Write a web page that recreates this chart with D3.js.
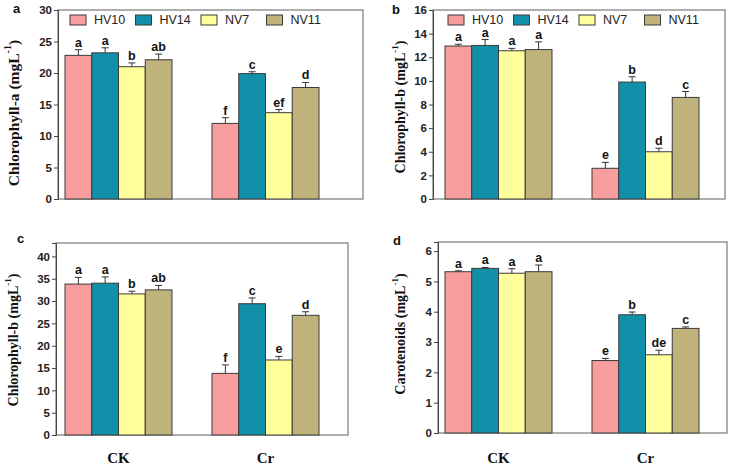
<!DOCTYPE html>
<html><head><meta charset="utf-8">
<script src="https://cdn.jsdelivr.net/npm/d3@7"></script>
<style>body{margin:0;background:#fff}svg{display:block}</style>
</head><body>
<svg id="chart" width="731" height="468"></svg>
<script>
// ---- data ----
const groups = ["CK", "Cr"];
const varieties = ["HV10", "HV14", "NV7", "NV11"];
const colors = ["#F89D9D", "#1290AA", "#FFFF9C", "#BFB37B"];

const chlA      = [[22.8, 23.2, 21.0, 22.1], [12.0, 19.9, 13.7, 17.7]];
const chlAErr   = [[0.9, 0.8, 0.6, 0.9], [0.9, 0.3, 0.5, 0.8]];
const chlALetters = [["a", "a", "b", "ab"], ["f", "c", "ef", "d"]];

const chlB      = [[12.95, 13.0, 12.55, 12.65], [2.6, 9.9, 4.0, 8.6]];
const chlBErr   = [[0.15, 0.5, 0.2, 0.65], [0.5, 0.45, 0.3, 0.5]];
const chlBLetters = [["a", "a", "a", "a"], ["e", "b", "d", "c"]];

const chlC      = [[33.8, 34.0, 31.6, 32.5], [13.8, 29.4, 16.8, 26.8]];
const chlCErr   = [[1.5, 1.4, 0.6, 1.0], [1.9, 1.3, 0.8, 0.8]];
const chlCLetters = [["a", "a", "b", "ab"], ["f", "c", "e", "d"]];

const carot     = [[5.32, 5.43, 5.27, 5.32], [2.39, 3.90, 2.58, 3.45]];
const carotErr  = [[0.03, 0.03, 0.15, 0.22], [0.07, 0.09, 0.15, 0.05]];
const carotLetters = [["a", "a", "a", "a"], ["e", "b", "de", "c"]];

const ticksA = [0, 5, 10, 15, 20, 25, 30];
const ticksB = [0, 2, 4, 6, 8, 10, 12, 14, 16];
const ticksC = [0, 5, 10, 15, 20, 25, 30, 35, 40];
const ticksD = [0, 1, 2, 3, 4, 5, 6];

// ---- panels (layout only) ----
const panels = [
  {tag:"a", vals:chlA, err:chlAErr, let:chlALetters, ticks:ticksA, ymax:30,
   L:58, R:363, T:10, B:199, padL:7, label:"Chlorophyll-a (mgL", lx:15, ly:113, lfs:15.5,
   legend:true, xlab:false, tx:13, ty:13},
  {tag:"b", vals:chlB, err:chlBErr, let:chlBLetters, ticks:ticksB, ymax:16,
   L:433, R:725, T:10, B:199, padL:12, label:"Chlorophyll-b (mgL", lx:402, ly:107, lfs:14,
   legend:true, xlab:false, tx:392, ty:14},
  {tag:"c", vals:chlC, err:chlCErr, let:chlCLetters, ticks:ticksC, ymax:43,
   L:56, R:348, T:243, B:435, padL:9, label:"Chlorophyll-b (mgL", lx:15, ly:340, lfs:14,
   legend:false, xlab:true, tx:17, ty:243},
  {tag:"d", vals:carot, err:carotErr, let:carotLetters, ticks:ticksD, ymax:6.3,
   L:438, R:727, T:242, B:433, padL:7, label:"Carotenoids (mgL", lx:402, ly:334, lfs:14,
   legend:false, xlab:true, tx:393, ty:245}
];

const svg = d3.select("#chart");
const sans = "'Liberation Sans', Arial, sans-serif";
const serif = "'Liberation Serif', 'Times New Roman', serif";

panels.forEach(p => {
  const g = svg.append("g");
  const y = d3.scaleLinear().domain([0, p.ymax]).range([p.B, p.T]);
  const x0 = d3.scaleBand().domain(groups)
    .range([p.L + p.padL, p.L + p.padL + 254]).paddingInner(40 / 147).paddingOuter(0);
  const x1 = d3.scaleBand().domain(varieties).range([0, x0.bandwidth()]).padding(0);

  // frame
  g.append("rect").attr("x", p.L).attr("y", p.T)
    .attr("width", p.R - p.L).attr("height", p.B - p.T)
    .attr("fill", "none").attr("stroke", "#7a7a7a").attr("stroke-width", 1.2);

  // y axis
  const ax = g.append("g").attr("transform", `translate(${p.L},0)`)
    .call(d3.axisLeft(y).tickValues(p.ticks).tickSize(4).tickPadding(2).tickFormat(d3.format("d")));
  ax.select(".domain").attr("stroke", "#444");
  ax.selectAll(".tick line").attr("stroke", "#444");
  ax.selectAll(".tick text").attr("font-family", sans).attr("font-weight", "bold")
    .attr("font-size", 11.5).attr("fill", "#222");

  // bars
  groups.forEach((grp, gi) => {
    varieties.forEach((v, vi) => {
      const val = p.vals[gi][vi], e = p.err[gi][vi];
      const bx = x0(grp) + x1(v), bw = x1.bandwidth();
      const cx = bx + bw / 2;
      g.append("rect").attr("x", bx).attr("y", y(val))
        .attr("width", bw).attr("height", y(0) - y(val))
        .attr("fill", colors[vi]).attr("stroke", "#3a3a3a").attr("stroke-width", 1);
      g.append("line").attr("x1", cx).attr("x2", cx).attr("y1", y(val)).attr("y2", y(val + e))
        .attr("stroke", "#333").attr("stroke-width", 1);
      g.append("line").attr("x1", cx - 3.5).attr("x2", cx + 3.5).attr("y1", y(val + e)).attr("y2", y(val + e))
        .attr("stroke", "#333").attr("stroke-width", 1);
      g.append("text").attr("x", cx).attr("y", y(val + e) - 3)
        .attr("text-anchor", "middle").attr("font-family", sans).attr("font-weight", "bold")
        .attr("font-size", 12.5).attr("fill", "#111").text(p.let[gi][vi]);
    });
    if (p.xlab) {
      g.append("text").attr("x", x0(grp) + x0.bandwidth() / 2).attr("y", 463)
        .attr("text-anchor", "middle").attr("font-family", serif).attr("font-weight", "bold")
        .attr("font-size", 15).attr("fill", "#111").text(grp);
    }
  });

  // y label
  const t = g.append("text").attr("transform", `translate(${p.lx},${p.ly}) rotate(-90)`)
    .attr("text-anchor", "middle").attr("dominant-baseline", "middle")
    .attr("font-family", serif).attr("font-weight", "bold").attr("font-size", p.lfs).attr("fill", "#111");
  t.append("tspan").text(p.label);
  t.append("tspan").attr("dy", -p.lfs * 0.4).attr("font-size", p.lfs * 0.65).text("-1");
  t.append("tspan").attr("dy", p.lfs * 0.4).text(")");

  // panel tag
  g.append("text").attr("x", p.tx).attr("y", p.ty).attr("font-family", sans)
    .attr("font-weight", "bold").attr("font-size", 13).attr("fill", "#111").text(p.tag);

  // legend
  if (p.legend) {
    const lx0 = p.L + (p.tag === "a" ? 12 : 15);
    varieties.forEach((v, vi) => {
      const lx = lx0 + vi * 65.5;
      g.append("rect").attr("x", lx).attr("y", 15).attr("width", 16).attr("height", 10)
        .attr("fill", colors[vi]).attr("stroke", "#3a3a3a").attr("stroke-width", 1);
      g.append("text").attr("x", lx + 24).attr("y", 24).attr("font-family", sans)
        .attr("font-size", 12.5).attr("fill", "#222").text(v);
    });
  }
});
</script>
</body></html>
